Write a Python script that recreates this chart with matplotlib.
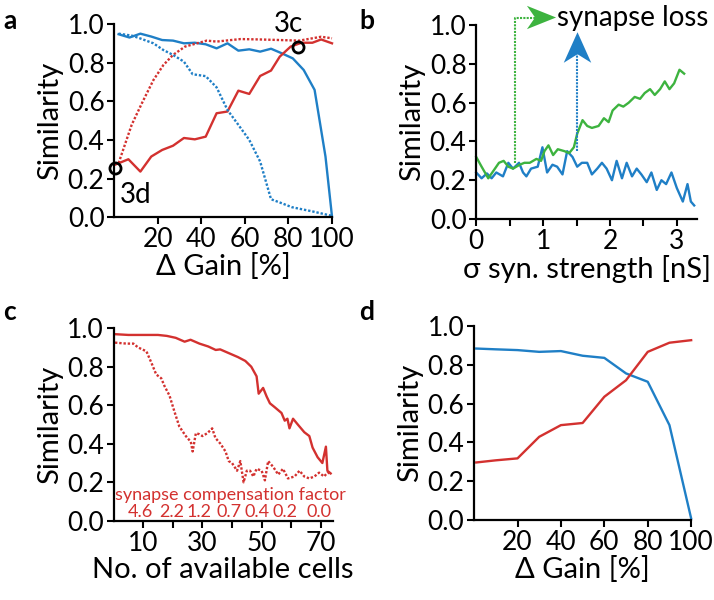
import matplotlib.pyplot as plt
from matplotlib.path import Path

plt.rcParams['font.family'] = ['Lato', 'DejaVu Sans']
plt.rcParams['font.size'] = 19

red = '#d3312f'
blue = '#1f7fc6'
green = '#3db33f'

# panel a: similarity vs gain change
a_x = [2, 7, 12, 17, 22, 27, 32, 37, 42, 47, 52, 57, 62, 67, 72, 77, 82, 87, 92, 97, 100]
a_blue = [0.947, 0.93, 0.95, 0.935, 0.917, 0.914, 0.90, 0.903, 0.895, 0.874, 0.90, 0.862,
          0.869, 0.857, 0.872, 0.848, 0.822, 0.762, 0.659, 0.314, 0.003]
a_red_x = [0, 6.5, 12, 17, 22, 27, 32, 37, 42, 47, 52, 57, 62, 67, 72, 76, 81, 86, 91, 95, 100]
a_red = [0.27, 0.30, 0.236, 0.314, 0.348, 0.37, 0.41, 0.403, 0.417, 0.538, 0.547, 0.655,
         0.638, 0.731, 0.759, 0.831, 0.883, 0.903, 0.903, 0.92, 0.90]
a_red_dot_x = [2, 8, 12.7, 18, 22.6, 27, 32.5, 38, 42.5, 47, 52, 58, 67, 76, 85, 95, 100]
a_red_dot = [0.28, 0.478, 0.59, 0.71, 0.788, 0.84, 0.883, 0.90, 0.914, 0.909, 0.915, 0.922,
             0.92, 0.917, 0.914, 0.934, 0.926]
a_blue_dot_x = [2, 8, 12, 18, 22.6, 27, 32, 36, 42, 47, 52, 57, 62, 67, 72, 77, 81.5, 91, 100]
a_blue_dot = [0.95, 0.94, 0.925, 0.90, 0.865, 0.84, 0.805, 0.74, 0.73, 0.672, 0.555, 0.478,
              0.40, 0.288, 0.093, 0.072, 0.052, 0.03, 0.007]

# panel b: similarity vs sigma of synaptic strength
b_green_x = [0.0, 0.08, 0.18, 0.26, 0.34, 0.41, 0.48, 0.55, 0.65, 0.72, 0.80, 0.90, 0.97,
             1.02, 1.08, 1.15, 1.22, 1.32, 1.39, 1.46, 1.51, 1.59, 1.66, 1.73, 1.83, 1.91,
             1.98, 2.04, 2.13, 2.20, 2.28, 2.37, 2.45, 2.52, 2.60, 2.67, 2.75, 2.82, 2.89,
             2.96, 3.04, 3.11]
b_green = [0.32, 0.27, 0.21, 0.25, 0.29, 0.30, 0.27, 0.26, 0.28, 0.29, 0.29, 0.31, 0.30,
           0.35, 0.38, 0.33, 0.36, 0.35, 0.34, 0.37, 0.44, 0.51, 0.48, 0.47, 0.48, 0.52,
           0.50, 0.56, 0.59, 0.58, 0.60, 0.63, 0.62, 0.65, 0.67, 0.64, 0.67, 0.71, 0.67,
           0.70, 0.77, 0.75]
b_blue_x = [0.0, 0.08, 0.16, 0.23, 0.30, 0.40, 0.48, 0.55, 0.64, 0.70, 0.75, 0.82, 0.92,
            0.99, 1.06, 1.14, 1.21, 1.29, 1.36, 1.44, 1.51, 1.58, 1.66, 1.73, 1.81, 1.88,
            1.95, 2.03, 2.10, 2.18, 2.25, 2.33, 2.40, 2.47, 2.55, 2.62, 2.70, 2.77, 2.84,
            2.92, 3.00, 3.09, 3.16, 3.21, 3.26]
b_blue = [0.24, 0.21, 0.235, 0.21, 0.24, 0.22, 0.29, 0.26, 0.29, 0.24, 0.22, 0.26, 0.27,
          0.37, 0.24, 0.28, 0.27, 0.23, 0.35, 0.32, 0.27, 0.29, 0.29, 0.23, 0.26, 0.29,
          0.26, 0.20, 0.30, 0.21, 0.29, 0.22, 0.26, 0.23, 0.19, 0.24, 0.15, 0.20, 0.18,
          0.24, 0.16, 0.09, 0.18, 0.09, 0.07]

# panel c: similarity vs number of available cells
c_solid_x = [0.5, 5, 10, 15, 18, 21, 24, 26, 29, 32, 34.5, 36, 39, 42, 44.5, 46.5, 48.3, 49,
             50.5, 51.7, 52.8, 54.4, 56.7, 57.8, 58.7, 59.4, 60.6, 62.2, 64.4, 66.1, 67.2,
             68.9, 70.5, 71.7, 72.2, 73.3]
c_solid = [0.969, 0.965, 0.965, 0.965, 0.96, 0.95, 0.93, 0.94, 0.92, 0.905, 0.887, 0.89,
           0.87, 0.85, 0.83, 0.80, 0.75, 0.66, 0.69, 0.645, 0.61, 0.59, 0.56, 0.52, 0.53,
           0.48, 0.53, 0.50, 0.46, 0.44, 0.38, 0.33, 0.30, 0.385, 0.26, 0.246]
c_dot_x = [0.5, 4.4, 6.7, 8.3, 11.1, 12.8, 14.4, 16.1, 17.2, 18.9, 20.5, 22.2, 24.4, 26.1,
           26.7, 27.8, 28.9, 30, 31.7, 33.3, 34.4, 36.1, 37.8, 38.9, 40, 41.7, 42.8, 43.9,
           45, 46.1, 47.2, 48.3, 50, 51.1, 52.2, 53.9, 55.6, 57.2, 58.9, 61.1, 62.8, 64.4,
           66.1, 67.8, 69.4, 71.1, 72.2, 73.3]
c_dot = [0.925, 0.92, 0.92, 0.90, 0.88, 0.82, 0.76, 0.74, 0.70, 0.65, 0.57, 0.49, 0.44,
         0.41, 0.36, 0.455, 0.45, 0.44, 0.455, 0.48, 0.43, 0.40, 0.36, 0.31, 0.30, 0.26,
         0.31, 0.20, 0.26, 0.26, 0.23, 0.27, 0.26, 0.21, 0.31, 0.28, 0.24, 0.27, 0.22,
         0.23, 0.26, 0.23, 0.22, 0.23, 0.25, 0.23, 0.25, 0.245]
comp_labels = ['4.6', '2.2', '1.2', '0.7', '0.4', '0.2', '0.0']
comp_pos = [9, 19.8, 28.9, 38.9, 48.3, 57.8, 69.4]

# panel d
d_x = [1, 10, 20, 30, 40, 50, 60, 70, 80, 90, 100]
d_blue = [0.883, 0.879, 0.875, 0.866, 0.87, 0.846, 0.835, 0.755, 0.712, 0.489, 0.009]
d_red = [0.297, 0.308, 0.318, 0.429, 0.489, 0.50, 0.635, 0.72, 0.866, 0.913, 0.926]

# swept-back arrow heads used as markers
head_right = Path([(0.5, 0), (-0.5, 0.4), (-0.22, 0), (-0.5, -0.4), (0.5, 0)],
                  [Path.MOVETO, Path.LINETO, Path.LINETO, Path.LINETO, Path.CLOSEPOLY])
head_up = Path([(0, 0.5), (0.45, -0.5), (0, -0.22), (-0.45, -0.5), (0, 0.5)],
               [Path.MOVETO, Path.LINETO, Path.LINETO, Path.LINETO, Path.CLOSEPOLY])

fig = plt.figure(figsize=(7.14, 6), dpi=100)
ax_a = fig.add_axes([0.160, 0.638, 0.305, 0.322])
ax_b = fig.add_axes([0.667, 0.635, 0.309, 0.323])
ax_c = fig.add_axes([0.159, 0.132, 0.307, 0.321])
ax_d = fig.add_axes([0.664, 0.133, 0.304, 0.324])

for ax in [ax_a, ax_b, ax_c, ax_d]:
    ax.spines['top'].set_visible(False)
    ax.spines['right'].set_visible(False)
    ax.spines['left'].set_linewidth(1.6)
    ax.spines['bottom'].set_linewidth(1.6)
    ax.tick_params(direction='out', length=5, width=1.5, labelsize=19, pad=2)
    ax.set_ylim(0, 1.0)
    ax.set_yticks([0, 0.2, 0.4, 0.6, 0.8, 1.0])
    ax.set_yticklabels(['0.0', '0.2', '0.4', '0.6', '0.8', '1.0'])
    ax.set_ylabel('Similarity', fontsize=21, labelpad=3)

lw = 1.7
dots = (0, (1, 0.8))

# a
ax_a.plot(a_x, a_blue, color=blue, lw=lw, clip_on=False)
ax_a.plot(a_red_x, a_red, color=red, lw=lw, clip_on=False)
ax_a.plot(a_red_dot_x, a_red_dot, color=red, lw=lw, ls=dots, clip_on=False)
ax_a.plot(a_blue_dot_x, a_blue_dot, color=blue, lw=lw, ls=dots, clip_on=False)
ax_a.plot([0.5, 84.3], [0.253, 0.879], 'o', ms=8, mfc='none', mec='black', mew=2, clip_on=False)
ax_a.text(80, 1.0, '3c', fontsize=20, ha='center', va='center')
ax_a.text(10, 0.115, '3d', fontsize=20, ha='center', va='center')
ax_a.set_xlim(0, 100)
ax_a.set_xticks([20, 40, 60, 80, 100])
ax_a.set_xlabel('Δ Gain [%]', fontsize=21, labelpad=1)

# b
ax_b.plot(b_blue_x, b_blue, color=blue, lw=lw, clip_on=False)
ax_b.plot(b_green_x, b_green, color=green, lw=lw, clip_on=False)
ax_b.plot([0.58, 0.58, 0.88], [0.29, 1.036, 1.036], color=green, lw=1.5, ls=(0, (1, 0.6)), clip_on=False)
ax_b.plot([0.97], [1.04], marker=head_right, ms=21, color=green, mec='none', clip_on=False)
ax_b.plot([1.5, 1.5], [0.35, 0.86], color=blue, lw=1.5, ls=(0, (1, 0.6)), clip_on=False)
ax_b.plot([1.5], [0.89], marker=head_up, ms=22, color=blue, mec='none', clip_on=False)
ax_b.text(1.21, 1.035, 'synapse loss', fontsize=20, ha='left', va='center')
ax_b.set_xlim(0, 3.3)
ax_b.set_xticks([0, 0.5, 1, 1.5, 2, 2.5, 3])
ax_b.set_xticklabels(['0', '', '1', '', '2', '', '3'])
ax_b.set_xlabel('σ syn. strength [nS]', fontsize=21, labelpad=1)

# c
ax_c.plot(c_solid_x, c_solid, color=red, lw=lw, clip_on=False)
ax_c.plot(c_dot_x, c_dot, color=red, lw=lw, ls=dots, clip_on=False)
ax_c.text(39.4, 0.135, 'synapse compensation factor', color=red, fontsize=13, ha='center', va='center')
for p, lab in zip(comp_pos, comp_labels):
    ax_c.text(p, 0.045, lab, color=red, fontsize=13, ha='center', va='center')
ax_c.set_xlim(0, 74)
ax_c.set_xticks([10, 20, 30, 40, 50, 60, 70])
ax_c.set_xticklabels(['10', '', '30', '', '50', '', '70'])
ax_c.set_xlabel('No. of available cells', fontsize=21, labelpad=1)

# d
ax_d.plot(d_x, d_blue, color=blue, lw=lw, clip_on=False)
ax_d.plot(d_x, d_red, color=red, lw=lw, clip_on=False)
ax_d.set_xlim(0, 100)
ax_d.set_xticks([20, 40, 60, 80, 100])
ax_d.set_xlabel('Δ Gain [%]', fontsize=21, labelpad=1)

for lab, x, y in [('a', 0.005, 0.965), ('b', 0.503, 0.965), ('c', 0.005, 0.48), ('d', 0.503, 0.48)]:
    fig.text(x, y, lab, fontsize=19, fontweight='bold', ha='left', va='center')

fig.savefig('out.png', dpi=100)
